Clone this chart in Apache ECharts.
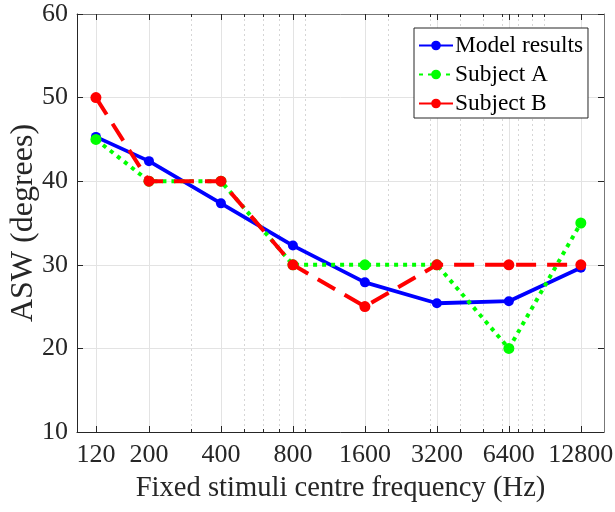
<!DOCTYPE html>
<html>
<head>
<meta charset="utf-8">
<script src="https://cdn.jsdelivr.net/npm/echarts@6/dist/echarts.min.js"></script>
<style>html,body{margin:0;padding:0;background:#fff}#c{width:615px;height:512px}</style>
</head>
<body>
<div id="c"></div>
<script>
const freqs = [120, 200, 400, 800, 1600, 3200, 6400, 12800];
const modelResults = [45.3, 42.4, 37.35, 32.3, 27.9, 25.4, 25.65, 29.65];
const subjectA = [45, 40, 40, 30, 30, 30, 20, 35];
const subjectB = [50, 40, 40, 30, 25, 30, 30, 30];
const minorTicks = [300, 500, 600, 700, 900, 2000, 3000, 4000, 5000, 6000, 7000, 8000, 9000];
const seriesNames = ['Model results', 'Subject A', 'Subject B'];

const FONT = '"Liberation Serif", "DejaVu Serif", serif';
const AX = '#262626';
const chart = echarts.init(document.getElementById('c'), null, {renderer: 'canvas'});

function pairs(vals) { return freqs.map((f, i) => [f, vals[i]]); }

const xBase = {type: 'log', logBase: 10, min: 100, max: 16000, gridIndex: 0};

chart.setOption({
  animation: false,
  backgroundColor: '#fff',
  grid: {left: 77, right: 11, top: 14, bottom: 80, containLabel: false, outerBoundsMode: 'none'},
  legend: {
    orient: 'vertical', left: 414, top: 28,
    backgroundColor: '#fff', borderColor: '#262626', borderWidth: 1,
    padding: [6, 5, 3, 4], itemGap: 6, itemWidth: 34, itemHeight: 12,
    textStyle: {fontFamily: FONT, fontSize: 23.4, color: '#000', padding: [0, 0, 0, -3]},
    data: [
      {name: seriesNames[0]},
      {name: seriesNames[1]},
      {name: seriesNames[2], lineStyle: {type: 'solid'}}
    ]
  },
  xAxis: [
    Object.assign({}, xBase, {
      position: 'bottom',
      name: 'Fixed stimuli centre frequency (Hz)', nameLocation: 'middle', nameGap: 42,
      nameMoveOverlap: false,
      nameTextStyle: {fontFamily: FONT, fontSize: 28.6, color: AX},
      axisLine: {show: true, lineStyle: {color: AX, width: 1}},
      axisTick: {show: true, inside: true, length: 6, customValues: freqs, lineStyle: {color: AX}},
      axisLabel: {show: true, customValues: freqs, margin: 10, fontFamily: FONT, fontSize: 26, color: AX,
        formatter: v => String(Math.round(v))},
      splitLine: {show: true, lineStyle: {color: '#e3e3e3', width: 1}}
    }),
    Object.assign({}, xBase, {
      position: 'bottom',
      axisLine: {show: false},
      axisTick: {show: true, inside: true, length: 3, customValues: minorTicks, lineStyle: {color: AX}},
      axisLabel: {show: false},
      splitLine: {show: true, lineStyle: {color: '#d6d6d6', width: 1, type: [2, 3]}}
    }),
    Object.assign({}, xBase, {
      position: 'top',
      axisLine: {show: true, lineStyle: {color: '#777', width: 1}},
      axisTick: {show: true, inside: true, length: 6, customValues: freqs, lineStyle: {color: AX}},
      axisLabel: {show: false},
      splitLine: {show: false}
    }),
    Object.assign({}, xBase, {
      position: 'top',
      axisLine: {show: false},
      axisTick: {show: true, inside: true, length: 3, customValues: minorTicks, lineStyle: {color: AX}},
      axisLabel: {show: false},
      splitLine: {show: false}
    })
  ],
  yAxis: [
    {
      type: 'value', min: 10, max: 60, interval: 10, position: 'left',
      name: 'ASW (degrees)', nameLocation: 'middle', nameGap: 37, nameRotate: 90,
      nameMoveOverlap: false,
      nameTextStyle: {fontFamily: FONT, fontSize: 32, color: AX},
      axisLine: {show: true, lineStyle: {color: AX, width: 1}},
      axisTick: {show: true, inside: true, length: 6, lineStyle: {color: AX}},
      axisLabel: {show: true, margin: 9, fontFamily: FONT, fontSize: 26, color: AX},
      splitLine: {show: true, lineStyle: {color: '#e3e3e3', width: 1}}
    },
    {
      type: 'value', min: 10, max: 60, interval: 10, position: 'right',
      axisLine: {show: true, lineStyle: {color: '#777', width: 1}},
      axisTick: {show: true, inside: true, length: 6, lineStyle: {color: AX}},
      axisLabel: {show: false},
      splitLine: {show: false}
    }
  ],
  series: [
    {
      name: seriesNames[0], type: 'line', xAxisIndex: 0, yAxisIndex: 0,
      data: pairs(modelResults), symbol: 'circle', symbolSize: 10,
      lineStyle: {color: '#0000ff', width: 3.8},
      itemStyle: {color: '#0000ff'}, z: 3
    },
    {
      name: seriesNames[1], type: 'line', xAxisIndex: 0, yAxisIndex: 0,
      data: pairs(subjectA), symbol: 'circle', symbolSize: 11,
      lineStyle: {color: '#00ff00', width: 4, type: [4, 5]},
      itemStyle: {color: '#00ff00'}, z: 4
    },
    {
      name: seriesNames[2], type: 'line', xAxisIndex: 0, yAxisIndex: 0,
      data: pairs(subjectB), symbol: 'circle', symbolSize: 11,
      lineStyle: {color: '#ff0000', width: 4, type: [20, 11]},
      itemStyle: {color: '#ff0000'}, z: 5
    }
  ]
});
</script>
</body>
</html>
